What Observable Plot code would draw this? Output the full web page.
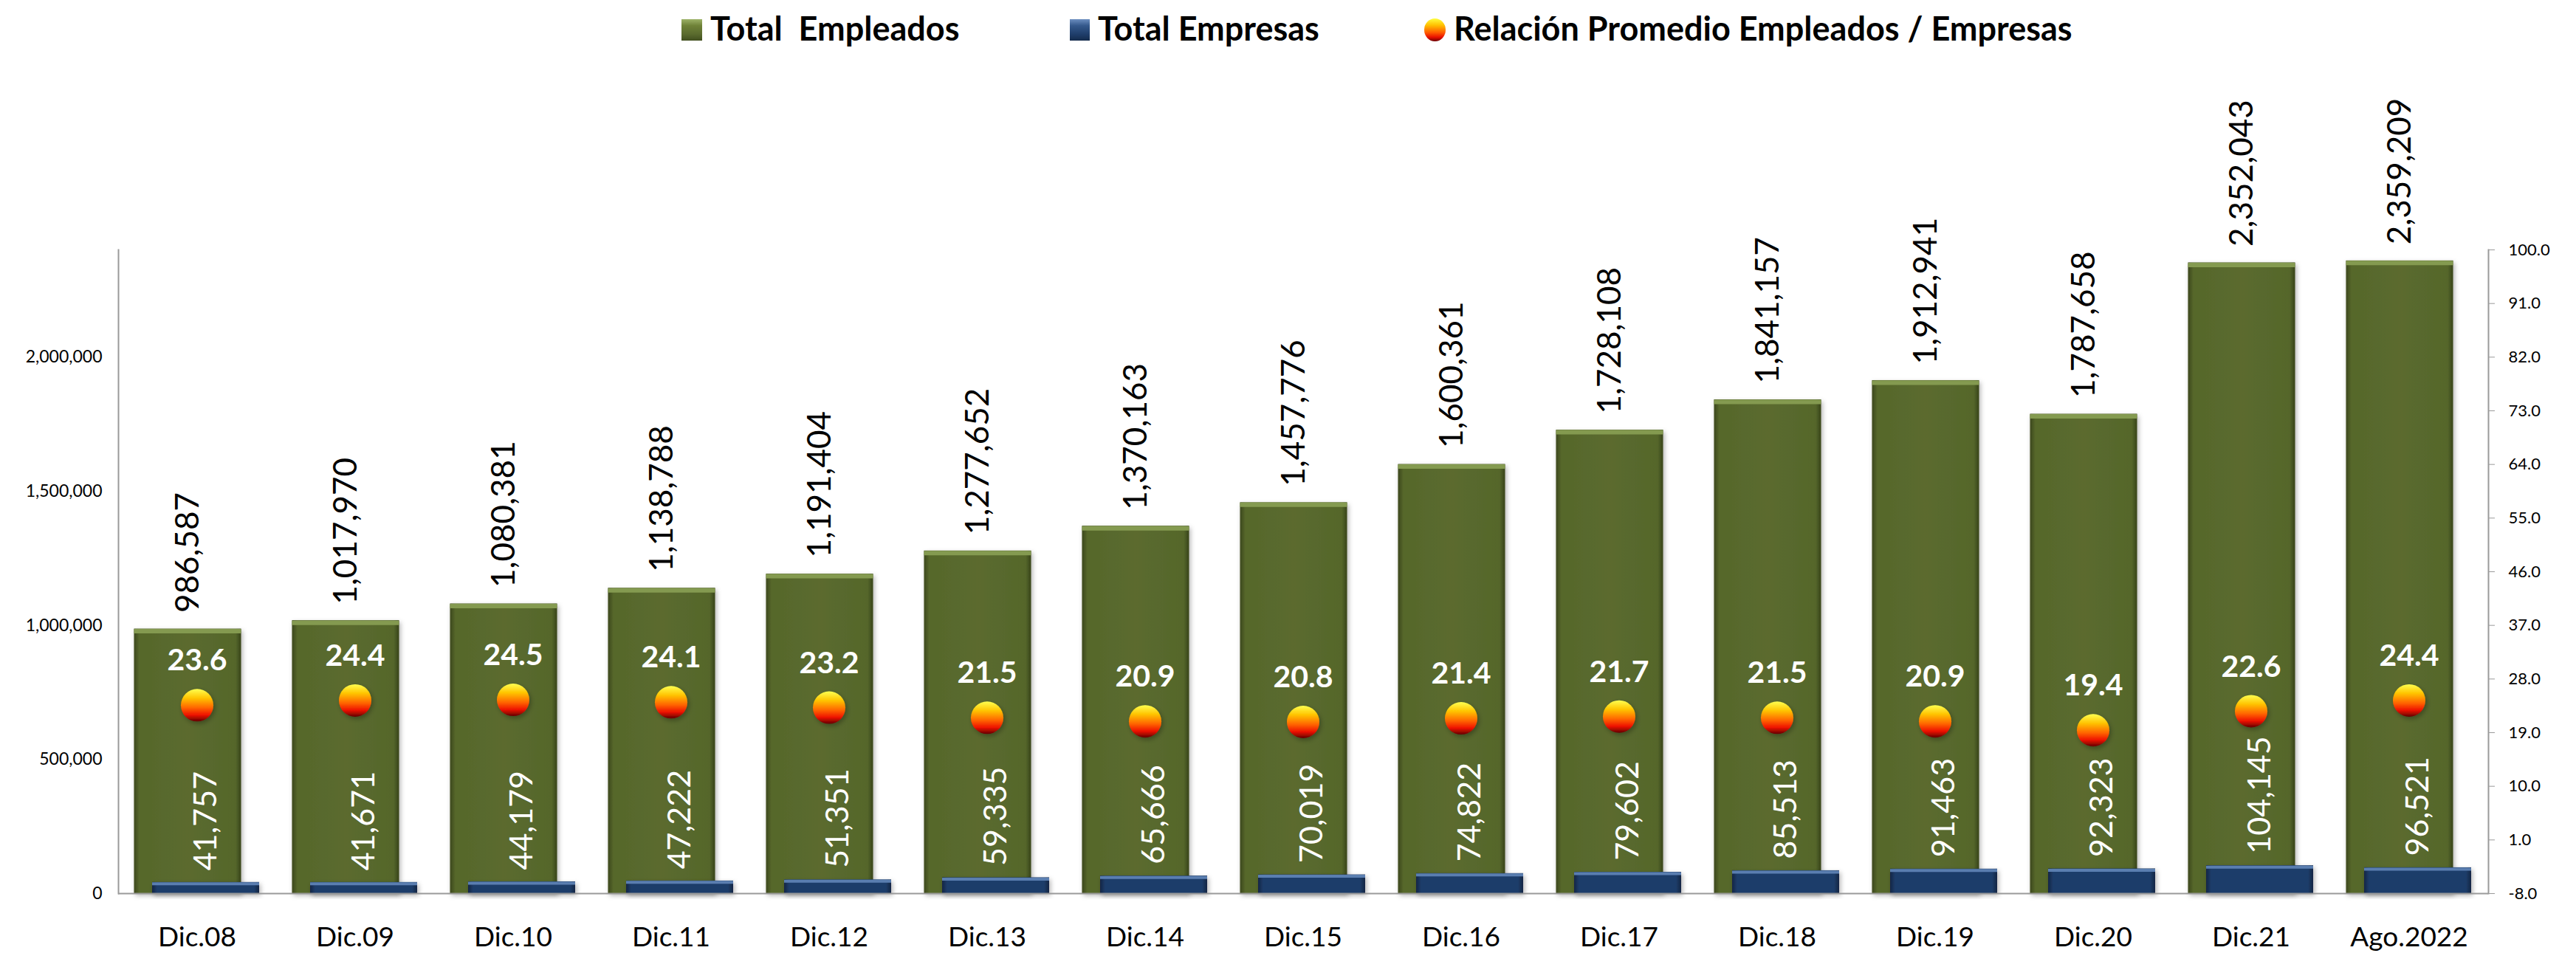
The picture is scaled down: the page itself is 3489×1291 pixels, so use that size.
<!DOCTYPE html>
<html><head><meta charset="utf-8">
<script src="https://cdn.jsdelivr.net/npm/d3@7"></script>
<script src="https://cdn.jsdelivr.net/npm/@observablehq/plot@0.6"></script>
<style>
body{margin:0;background:#fff;font-family:Lato,"Open Sans",sans-serif;}
#legend{position:relative;width:3489px;height:80px;}
#legend .sw{position:absolute;}
#legend .lt{position:absolute;top:16px;font-weight:bold;font-size:45px;line-height:45px;white-space:pre;color:#000;}
#chart svg{display:block;}
</style></head><body>
<div id="legend"></div>
<div id="chart"></div>
<script>
const categories = ["Dic.08","Dic.09","Dic.10","Dic.11","Dic.12","Dic.13","Dic.14","Dic.15","Dic.16","Dic.17","Dic.18","Dic.19","Dic.20","Dic.21","Ago.2022"];
const empleados = [986587,1017970,1080381,1138788,1191404,1277652,1370163,1457776,1600361,1728108,1841157,1912941,1787658,2352043,2359209];
const empresas = [41757,41671,44179,47222,51351,59335,65666,70019,74822,79602,85513,91463,92323,104145,96521];
const relacion = [23.6,24.4,24.5,24.1,23.2,21.5,20.9,20.8,21.4,21.7,21.5,20.9,19.4,22.6,24.4];
const leftTicks = [0,500000,1000000,1500000,2000000];
const rightTicks = [-8,1,10,19,28,37,46,55,64,73,82,91,100];
const legendLabels = ["Total  Empleados","Total Empresas","Relación Promedio Empleados / Empresas"];

const Y_MAX = 2400000, R_MIN = -8, R_MAX = 100;
const toLeft = r => (r - R_MIN) / (R_MAX - R_MIN) * Y_MAX;
const fromLeft = v => v / Y_MAX * (R_MAX - R_MIN) + R_MIN;
const fmt = d3.format(",");

const data = categories.map((c, i) => ({cat: c, emp: empleados[i], empr: empresas[i], rel: relacion[i], relY: toLeft(relacion[i])}));

// Legend
const legend = document.getElementById("legend");
const legendItems = [
  {sw: {left: 923, top: 26, width: 28, height: 29, background: "linear-gradient(to bottom,#9db368 0%,#6f8238 30%,#5a6b2e 70%,#414f1f 100%)"}, tx: 962},
  {sw: {left: 1449, top: 26, width: 27, height: 29, background: "linear-gradient(to bottom,#6d8fc0 0%,#35598c 30%,#1f3e6b 70%,#142b4c 100%)"}, tx: 1487},
  {sw: {left: 1929, top: 25, width: 29, height: 31, borderRadius: "50%", background: "linear-gradient(to bottom,#ffff40 0%,#ffc000 30%,#ff5a00 62%,#e81000 82%,#6b0000 100%)"}, tx: 1969}
];
legendItems.forEach((it, i) => {
  const s = document.createElement("div");
  s.className = "sw";
  Object.entries(it.sw).forEach(([k, v]) => s.style[k] = typeof v === "number" ? v + "px" : v);
  legend.appendChild(s);
  const t = document.createElement("div");
  t.className = "lt";
  t.style.left = it.tx + "px";
  t.textContent = legendLabels[i];
  legend.appendChild(t);
});

const defs = () => {
  const ns = "http://www.w3.org/2000/svg";
  const d = document.createElementNS(ns, "defs");
  d.innerHTML = `
    <linearGradient id="gGreen" x1="0" x2="1" y1="0" y2="0">
      <stop offset="0" stop-color="#3b471c"/>
      <stop offset="0.05" stop-color="#56672b"/>
      <stop offset="0.5" stop-color="#5b6b2f"/>
      <stop offset="0.95" stop-color="#55662b"/>
      <stop offset="1" stop-color="#37431a"/>
    </linearGradient>
    <linearGradient id="gBlue" x1="0" x2="1" y1="0" y2="0">
      <stop offset="0" stop-color="#122646"/>
      <stop offset="0.05" stop-color="#1f3e6b"/>
      <stop offset="0.95" stop-color="#1f3e6b"/>
      <stop offset="1" stop-color="#112443"/>
    </linearGradient>
    <linearGradient id="ball" x1="0" x2="0" y1="0" y2="1">
      <stop offset="0" stop-color="#ffff50"/>
      <stop offset="0.28" stop-color="#ffc400"/>
      <stop offset="0.58" stop-color="#ff6400"/>
      <stop offset="0.8" stop-color="#ee1200"/>
      <stop offset="1" stop-color="#620000"/>
    </linearGradient>
    <filter id="sh" x="-10%" y="-10%" width="130%" height="130%">
      <feDropShadow dx="2" dy="3" stdDeviation="3" flood-color="#000" flood-opacity="0.3"/>
    </filter>`;
  return d;
};

const chart = Plot.plot({
  width: 3489, height: 1211,
  marginTop: 258, marginBottom: 81, marginLeft: 160, marginRight: 119,
  style: {fontFamily: "Lato, 'Open Sans', sans-serif", background: "#fff", color: "#000"},
  x: {domain: categories, paddingInner: 0.322, paddingOuter: 0.161, label: null},
  y: {domain: [0, Y_MAX], label: null},
  marks: [
    defs,
    Plot.barY(data, {x: "cat", y: "emp", fill: "url(#gGreen)", dx: -12.5}),
    Plot.tickY(data, {x: "cat", y: "emp", stroke: "#849a50", strokeWidth: 6, dx: -12.5, dy: 3}),
    Plot.barY(data, {x: "cat", y: "empr", fill: "url(#gBlue)", dx: 12}),
    Plot.tickY(data, {x: "cat", y: "empr", stroke: "#5a7eb0", strokeWidth: 4, dx: 12, dy: 2}),
    Plot.ruleY([0], {stroke: "#9a9a9a", strokeWidth: 2}),
    Plot.frame({anchor: "left", stroke: "#9a9a9a", strokeWidth: 2}),
    Plot.frame({anchor: "right", stroke: "#9a9a9a", strokeWidth: 2}),
    Plot.axisY({anchor: "left", ticks: leftTicks, tickFormat: fmt, tickSize: 0, tickPadding: 22, fontSize: 23, label: null}),
    Plot.axisY({anchor: "right", ticks: rightTicks.map(toLeft), tickFormat: v => fromLeft(v).toFixed(1), tickSize: 8, tickPadding: 19, fontSize: 22, stroke: "#9a9a9a", fill: "#000", label: null}),
    Plot.axisX({tickSize: 0, tickPadding: 45, fontSize: 37, label: null}),
    Plot.dot(data, {x: "cat", y: "relY", r: 22, fill: "url(#ball)"}),
    Plot.text(data, {x: "cat", y: "emp", text: d => fmt(d.emp), rotate: -90, textAnchor: "start", dx: -12.5, dy: -22, fontSize: 44, fill: "#000"}),
    Plot.text(data, {x: "cat", y: "empr", text: d => fmt(d.empr), rotate: -90, textAnchor: "start", dx: 12, dy: -16, fontSize: 43, fill: "#fff"}),
    Plot.text(data, {x: "cat", y: "relY", text: d => d.rel.toFixed(1), dy: -60, fontSize: 41, fontWeight: "bold", fill: "#fff"})
  ]
});
chart.querySelectorAll('g[aria-label="bar"], g[aria-label="dot"]').forEach(g => g.setAttribute("filter", "url(#sh)"));
document.getElementById("chart").appendChild(chart);
</script>
</body></html>
